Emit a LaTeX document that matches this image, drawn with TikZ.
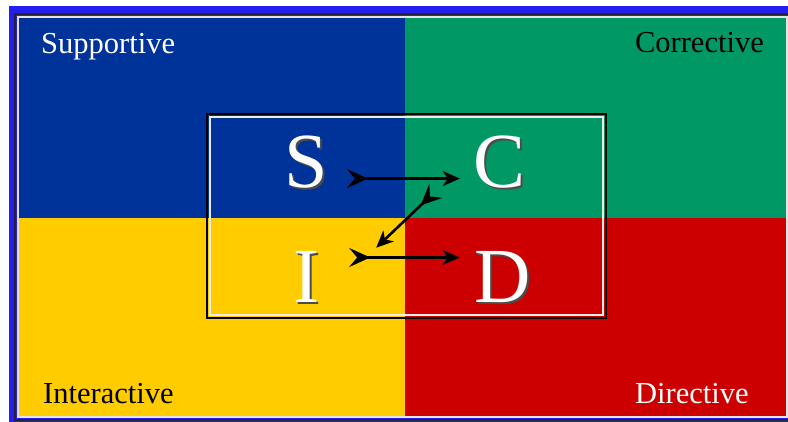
\documentclass[tikz,border=0pt]{standalone}
\usepackage{fontspec}
\setmainfont{Liberation Serif}
\usetikzlibrary{arrows.meta}

\definecolor{frameblue}{RGB}{38,30,240}
\definecolor{suppblue}{RGB}{0,51,153}
\definecolor{corrgreen}{RGB}{0,153,102}
\definecolor{interyellow}{RGB}{255,204,0}
\definecolor{dirred}{RGB}{204,0,0}

% letter with a dark drop shadow behind it
\newcommand{\shadowletter}[1]{\makebox[0pt][l]{\hspace{2pt}\raisebox{-2pt}{\textcolor{black!70}{#1}}}#1}

\tikzset{
  quadlabel/.style={inner sep=0pt, font=\fontsize{30.5}{36}\selectfont},
  bigletter/.style={inner sep=0pt, anchor=base, text=white, font=\fontsize{78}{90}\selectfont},
  sidarrow/.style={line width=2.6pt, {Stealth[reversed,length=21pt,width=19pt,inset=8pt]}-{Stealth[length=17pt,width=15pt,inset=5pt]}}
}

\begin{document}
\begin{tikzpicture}[x=1pt,y=-1pt]
\useasboundingbox (0,0) rectangle (788,421);
\fill[white] (0,0) rectangle (788,421);

%Frame
\fill[frameblue] (9,6) rectangle (800,430);
\draw[black!85, line width=2pt] (15,14) rectangle (795,419.5);
\draw[white!80!gray, line width=2pt] (17.5,16.5) rectangle (787,416.5);

%Quadrants
\fill[suppblue] (19,18) rectangle (405,218);
\fill[corrgreen] (405,18) rectangle (786,218);
\fill[interyellow] (19,218) rectangle (405,415.5);
\fill[dirred] (405,218) rectangle (786,415.5);

%Inner box
\draw[black, line width=2pt] (207,114) rectangle (606,318);
\draw[white!85!gray, line width=2pt] (210,117) rectangle (603,315);

% Text Node
\node[quadlabel, text=white, anchor=base west] (supportive) at (41,53) {Supportive};
\node[quadlabel, anchor=base east] (corrective) at (764,52) {Corrective};
\node[quadlabel, anchor=base west] (interactive) at (43,403) {Interactive};
\node[quadlabel, text=white, anchor=base west] (directive) at (635,403) {Directive};

%Letters
\node[bigletter] (S) at (306,187) {\shadowletter{S}};
\node[bigletter] (C) at (500,187) {\shadowletter{C}};
\node[bigletter] (I) at (306,302) {\shadowletter{I}};
\node[bigletter] (D) at (503,302) {\shadowletter{D}};

%Arrows
\draw[sidarrow, shorten <=19pt, shorten >=14pt] ([yshift=-16pt]S.east) -- ([yshift=-16pt]C.west);
\draw[sidarrow] ([xshift=-38pt,yshift=-1pt]C.south west) -- ([xshift=57pt,yshift=3pt]I.north east);
\draw[sidarrow, shorten <=30pt, shorten >=15pt] ([yshift=20pt]I.east) -- ([yshift=20pt]D.west);

\end{tikzpicture}
\end{document}
